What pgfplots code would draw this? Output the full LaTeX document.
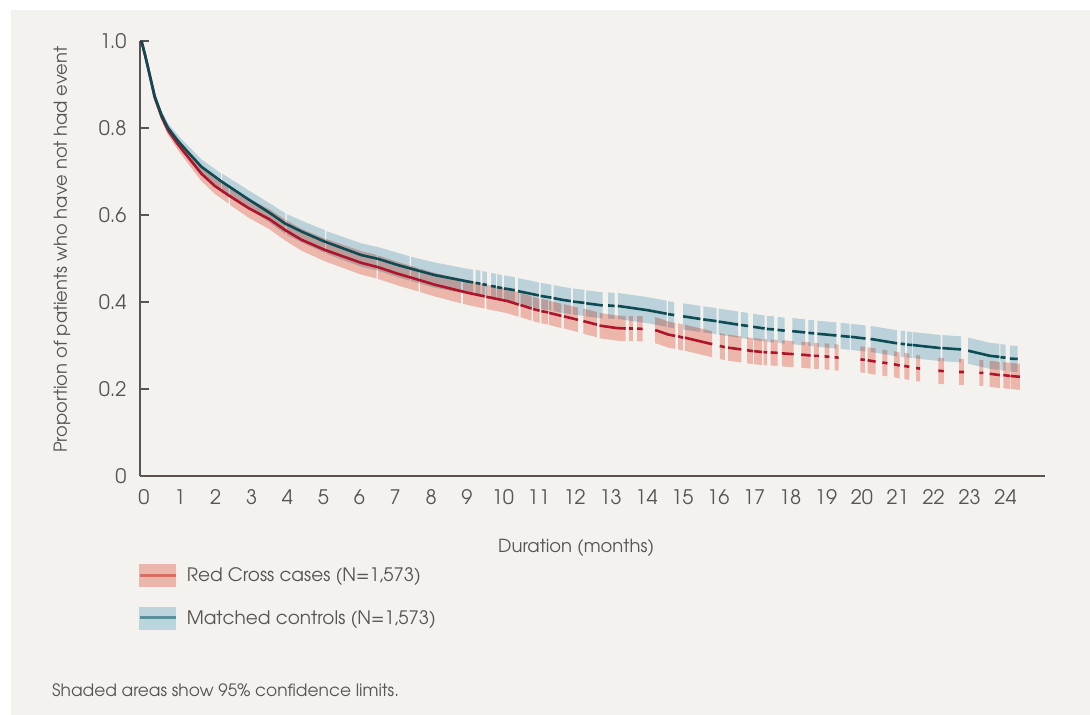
\documentclass[border=0pt]{standalone}
\usepackage{fontspec}
\setmainfont{TeX Gyre Adventor}
\usepackage{pgfplots}
\usepackage{pgfplotstable}
\pgfplotsset{compat=1.18}
\definecolor{bgc}{HTML}{F3F2EF}
\definecolor{txt}{HTML}{5A5350}
\definecolor{redline}{HTML}{B0142A}
\definecolor{tealline}{HTML}{0C4A54}
\definecolor{redband}{HTML}{ECB6AB}
\definecolor{tealband}{HTML}{C6DEE9}
\definecolor{tealbandleg}{HTML}{BCD4DB}
\definecolor{redleg}{HTML}{D86F61}
\definecolor{tealleg}{HTML}{5A909D}

% Matched controls: survival estimate (segments separated by nan)
\pgfplotstableread{
x y
0 1.000
0.10 0.968
0.18 0.940
0.37 0.873
0.56 0.830
0.74 0.800
1.02 0.770
1.29 0.745
1.67 0.711
2.23 0.677
2.98 0.636
3.57 0.605
4.01 0.580
4.46 0.562
5.10 0.539
6.12 0.508
6.60 0.499
7.14 0.485
8.16 0.462
9.10 0.447
9.24 0.445
nan nan
9.31 0.444
9.44 0.442
nan nan
9.50 0.441
9.62 0.439
nan nan
9.74 0.437
9.87 0.435
nan nan
9.91 0.434
10.05 0.432
nan nan
10.10 0.431
10.20 0.430
10.40 0.427
nan nan
10.49 0.425
10.96 0.417
11.07 0.415
nan nan
11.12 0.414
11.42 0.410
nan nan
11.48 0.409
11.72 0.405
11.96 0.402
nan nan
12.02 0.401
12.34 0.398
nan nan
12.39 0.397
12.85 0.392
nan nan
13.00 0.392
13.18 0.391
nan nan
13.27 0.391
14.11 0.381
14.63 0.373
nan nan
14.67 0.372
14.84 0.370
nan nan
15.09 0.367
15.57 0.361
nan nan
15.65 0.360
16.02 0.356
nan nan
16.08 0.355
16.31 0.352
16.62 0.348
nan nan
16.70 0.347
16.90 0.345
nan nan
17.04 0.343
17.36 0.339
nan nan
17.42 0.338
17.62 0.337
nan nan
17.72 0.336
17.92 0.334
nan nan
18.13 0.333
18.49 0.330
nan nan
18.58 0.329
18.74 0.328
nan nan
18.83 0.327
19.36 0.323
nan nan
19.48 0.322
19.73 0.320
nan nan
19.76 0.320
20.17 0.316
nan nan
20.31 0.315
20.39 0.314
21.05 0.305
nan nan
21.15 0.304
21.27 0.303
nan nan
21.33 0.302
21.47 0.301
nan nan
21.49 0.301
22.26 0.294
nan nan
22.31 0.294
22.83 0.291
nan nan
23.03 0.288
23.65 0.276
23.90 0.274
nan nan
23.93 0.273
24.07 0.272
nan nan
24.19 0.270
24.41 0.269
}\tealline

% Matched controls: 95% confidence band, one polygon per segment
\pgfplotstableread{
x y
0 1.000
0.10 0.970
0.18 0.944
0.37 0.879
0.56 0.839
0.74 0.811
1.02 0.783
1.29 0.760
1.67 0.728
2.21 0.696
2.21 0.660
1.67 0.694
1.29 0.730
1.02 0.757
0.74 0.789
0.56 0.821
0.37 0.867
0.18 0.936
0.10 0.966
0 1.000
nan nan
2.25 0.695
2.98 0.657
3.57 0.627
4.01 0.604
4.01 0.556
3.57 0.583
2.98 0.615
2.25 0.657
nan nan
4.05 0.602
4.46 0.587
5.11 0.565
5.11 0.513
4.46 0.537
4.05 0.554
nan nan
5.15 0.563
6.12 0.535
6.60 0.526
7.14 0.513
7.47 0.505
7.47 0.449
7.14 0.457
6.60 0.472
6.12 0.481
5.15 0.511
nan nan
7.51 0.504
8.16 0.491
9.10 0.476
9.24 0.474
9.24 0.416
9.10 0.418
8.16 0.433
7.51 0.448
nan nan
9.31 0.474
9.44 0.472
9.44 0.412
9.31 0.414
nan nan
9.50 0.471
9.62 0.469
9.62 0.409
9.50 0.411
nan nan
9.74 0.467
9.87 0.465
9.87 0.405
9.74 0.407
nan nan
9.91 0.464
10.05 0.462
10.05 0.402
9.91 0.404
nan nan
10.10 0.461
10.20 0.460
10.40 0.457
10.40 0.397
10.20 0.400
10.10 0.401
nan nan
10.49 0.455
10.96 0.447
11.07 0.445
11.07 0.385
10.96 0.387
10.49 0.395
nan nan
11.12 0.444
11.42 0.440
11.42 0.380
11.12 0.384
nan nan
11.48 0.439
11.72 0.435
11.96 0.432
11.96 0.372
11.72 0.375
11.48 0.379
nan nan
12.02 0.431
12.34 0.428
12.34 0.368
12.02 0.371
nan nan
12.39 0.427
12.85 0.422
12.85 0.362
12.39 0.367
nan nan
13.00 0.422
13.18 0.421
13.18 0.361
13.00 0.362
nan nan
13.27 0.421
14.11 0.411
14.63 0.403
14.63 0.343
14.11 0.351
13.27 0.361
nan nan
14.67 0.402
14.84 0.400
14.84 0.340
14.67 0.342
nan nan
15.09 0.397
15.57 0.391
15.57 0.331
15.09 0.337
nan nan
15.65 0.390
16.02 0.386
16.02 0.326
15.65 0.330
nan nan
16.08 0.385
16.31 0.382
16.62 0.378
16.62 0.318
16.31 0.322
16.08 0.325
nan nan
16.70 0.377
16.90 0.375
16.90 0.315
16.70 0.317
nan nan
17.04 0.373
17.36 0.369
17.36 0.309
17.04 0.313
nan nan
17.42 0.368
17.62 0.367
17.62 0.307
17.42 0.308
nan nan
17.72 0.366
17.92 0.364
17.92 0.304
17.72 0.306
nan nan
18.13 0.363
18.49 0.360
18.49 0.300
18.13 0.303
nan nan
18.58 0.359
18.74 0.358
18.74 0.298
18.58 0.299
nan nan
18.83 0.357
19.36 0.353
19.36 0.293
18.83 0.297
nan nan
19.48 0.352
19.73 0.350
19.73 0.290
19.48 0.292
nan nan
19.76 0.350
20.17 0.346
20.17 0.286
19.76 0.290
nan nan
20.31 0.345
20.39 0.344
21.05 0.335
21.05 0.275
20.39 0.284
20.31 0.285
nan nan
21.15 0.334
21.27 0.333
21.27 0.273
21.15 0.274
nan nan
21.33 0.332
21.47 0.331
21.47 0.271
21.33 0.272
nan nan
21.49 0.331
22.26 0.324
22.26 0.264
21.49 0.271
nan nan
22.31 0.324
22.83 0.321
22.83 0.261
22.31 0.264
nan nan
23.03 0.318
23.65 0.306
23.90 0.304
23.90 0.244
23.65 0.246
23.03 0.258
nan nan
23.93 0.303
24.07 0.302
24.07 0.242
23.93 0.243
nan nan
24.19 0.300
24.41 0.299
24.41 0.239
24.19 0.240
}\tealband

% Red Cross cases: survival estimate
\pgfplotstableread{
x y
0 1.000
0.10 0.968
0.18 0.940
0.37 0.870
0.56 0.826
0.74 0.795
1.02 0.762
1.29 0.734
1.67 0.695
2.04 0.667
2.43 0.645
2.47 0.643
2.98 0.616
3.57 0.590
4.01 0.565
4.46 0.543
5.10 0.520
6.12 0.490
6.55 0.481
6.59 0.480
7.14 0.465
7.72 0.451
7.76 0.450
8.16 0.440
8.90 0.425
8.96 0.424
9.10 0.421
9.56 0.413
nan nan
9.61 0.412
10.20 0.402
10.51 0.394
nan nan
10.56 0.393
10.87 0.385
nan nan
10.91 0.384
11.09 0.380
nan nan
11.14 0.379
11.33 0.376
nan nan
11.36 0.375
11.70 0.368
nan nan
11.77 0.367
12.16 0.359
nan nan
12.31 0.356
12.69 0.348
nan nan
12.76 0.346
12.82 0.345
13.25 0.340
13.49 0.339
nan nan
13.58 0.339
13.69 0.339
nan nan
13.81 0.339
13.96 0.338
nan nan
14.31 0.335
14.37 0.334
14.68 0.325
14.87 0.322
nan nan
14.95 0.321
15.09 0.318
nan nan
15.14 0.318
15.29 0.315
15.90 0.303
nan nan
16.11 0.299
16.25 0.296
nan nan
16.34 0.295
16.71 0.291
nan nan
16.87 0.289
17.04 0.287
nan nan
17.07 0.287
17.29 0.285
nan nan
17.33 0.285
17.43 0.284
nan nan
17.53 0.284
17.72 0.283
nan nan
17.84 0.282
18.17 0.280
nan nan
18.38 0.279
18.64 0.277
nan nan
18.73 0.276
18.87 0.276
nan nan
19.03 0.275
19.16 0.274
nan nan
19.31 0.273
19.42 0.272
nan nan
20.03 0.268
20.15 0.267
nan nan
20.23 0.266
20.45 0.263
nan nan
20.64 0.261
20.78 0.259
nan nan
20.96 0.257
21.12 0.254
nan nan
21.25 0.253
21.39 0.251
nan nan
21.58 0.248
21.69 0.247
nan nan
22.20 0.242
22.35 0.241
nan nan
22.78 0.239
22.91 0.239
nan nan
23.34 0.237
23.45 0.237
nan nan
23.63 0.235
23.91 0.232
nan nan
24.01 0.232
24.19 0.230
nan nan
24.21 0.230
24.47 0.228
}\redline

% Red Cross cases: 95% confidence band
\pgfplotstableread{
x y
0 1.000
0.10 0.970
0.18 0.944
0.37 0.876
0.56 0.835
0.74 0.806
1.02 0.775
1.29 0.749
1.67 0.712
2.04 0.685
2.43 0.664
2.43 0.626
2.04 0.649
1.67 0.678
1.29 0.719
1.02 0.749
0.74 0.784
0.56 0.817
0.37 0.864
0.18 0.936
0.10 0.966
0 1.000
nan nan
2.47 0.663
2.98 0.638
3.57 0.613
4.01 0.589
4.46 0.568
5.10 0.546
6.12 0.517
6.55 0.508
6.55 0.454
6.12 0.463
5.10 0.494
4.46 0.518
4.01 0.541
3.57 0.567
2.98 0.594
2.47 0.623
nan nan
6.59 0.507
7.14 0.492
7.72 0.478
7.72 0.424
7.14 0.438
6.59 0.453
nan nan
7.76 0.477
8.16 0.467
8.90 0.453
8.90 0.397
8.16 0.413
7.76 0.423
nan nan
8.96 0.452
9.10 0.449
9.56 0.441
9.56 0.385
9.10 0.393
8.96 0.396
nan nan
9.61 0.440
10.20 0.430
10.51 0.422
10.51 0.366
10.20 0.374
9.61 0.384
nan nan
10.56 0.421
10.87 0.413
10.87 0.357
10.56 0.365
nan nan
10.91 0.412
11.09 0.408
11.09 0.352
10.91 0.356
nan nan
11.14 0.407
11.33 0.404
11.33 0.348
11.14 0.351
nan nan
11.36 0.403
11.70 0.396
11.70 0.340
11.36 0.347
nan nan
11.77 0.395
12.16 0.387
12.16 0.331
11.77 0.339
nan nan
12.31 0.385
12.69 0.377
12.69 0.319
12.31 0.327
nan nan
12.76 0.375
12.82 0.374
13.25 0.369
13.49 0.368
13.49 0.310
13.25 0.311
12.82 0.316
12.76 0.317
nan nan
13.58 0.368
13.69 0.368
13.69 0.310
13.58 0.310
nan nan
13.81 0.368
13.96 0.367
13.96 0.309
13.81 0.310
nan nan
14.31 0.365
14.37 0.364
14.68 0.355
14.87 0.352
14.87 0.292
14.68 0.295
14.37 0.304
14.31 0.305
nan nan
14.95 0.351
15.09 0.348
15.09 0.288
14.95 0.291
nan nan
15.14 0.348
15.29 0.345
15.90 0.333
15.90 0.273
15.29 0.285
15.14 0.288
nan nan
16.11 0.329
16.25 0.326
16.25 0.266
16.11 0.269
nan nan
16.34 0.325
16.71 0.321
16.71 0.261
16.34 0.265
nan nan
16.87 0.319
17.04 0.317
17.04 0.257
16.87 0.259
nan nan
17.07 0.317
17.29 0.315
17.29 0.255
17.07 0.257
nan nan
17.33 0.315
17.43 0.314
17.43 0.254
17.33 0.255
nan nan
17.53 0.314
17.72 0.313
17.72 0.253
17.53 0.254
nan nan
17.84 0.312
18.17 0.310
18.17 0.250
17.84 0.252
nan nan
18.38 0.309
18.64 0.307
18.64 0.247
18.38 0.249
nan nan
18.73 0.306
18.87 0.306
18.87 0.246
18.73 0.246
nan nan
19.03 0.305
19.16 0.304
19.16 0.244
19.03 0.245
nan nan
19.31 0.303
19.42 0.302
19.42 0.242
19.31 0.243
nan nan
20.03 0.298
20.15 0.297
20.15 0.237
20.03 0.238
nan nan
20.23 0.296
20.45 0.293
20.45 0.233
20.23 0.236
nan nan
20.64 0.291
20.78 0.289
20.78 0.229
20.64 0.231
nan nan
20.96 0.287
21.12 0.284
21.12 0.224
20.96 0.227
nan nan
21.25 0.283
21.39 0.281
21.39 0.221
21.25 0.223
nan nan
21.58 0.278
21.69 0.277
21.69 0.217
21.58 0.218
nan nan
22.20 0.272
22.35 0.271
22.35 0.211
22.20 0.212
nan nan
22.78 0.269
22.91 0.269
22.91 0.209
22.78 0.209
nan nan
23.34 0.267
23.45 0.267
23.45 0.207
23.34 0.207
nan nan
23.63 0.265
23.91 0.262
23.91 0.202
23.63 0.205
nan nan
24.01 0.262
24.19 0.260
24.19 0.200
24.01 0.202
nan nan
24.21 0.260
24.47 0.258
24.47 0.198
24.21 0.200
}\redband

\begin{document}
\begin{tikzpicture}
\fill[white] (0,0) rectangle (1090pt,715pt);
\fill[bgc] (11pt,0) rectangle (1090pt,705pt);
\begin{axis}[
  at={(140pt,239pt)}, anchor=south west,
  scale only axis, width=905pt, height=435pt,
  xmin=-0.04, xmax=25.17, ymin=0, ymax=1,
  axis x line*=bottom, axis y line*=left,
  axis line style={txt, line width=2.4pt},
  xtick={0,1,...,24},
  xticklabels={0,1,2,3,4,5,6,7,8,9,10,11,12,13,14,15,16,17,18,19,20,21,22,23,24},
  ytick={0,0.2,0.4,0.6,0.8,1},
  yticklabels={0,0.2,0.4,0.6,0.8,1.0},
  x tick style={draw=none},
  y tick style={txt, line width=2.4pt},
  tick align=inside, major tick length=9pt,
  ticklabel style={font=\fontsize{20}{20}\selectfont, text=txt},
  yticklabel style={xshift=-10pt},
  xticklabel style={yshift=-10pt, xshift=2.5pt},
  /pgf/number format/assume math mode=true,
  xlabel={Duration (months)},
  ylabel={Proportion of patients who have not had event},
  label style={text=txt},
  xlabel style={at={(axis description cs:0.482,-0.166)}, anchor=center, font=\fontsize{18}{18}\selectfont},
  ylabel style={at={(axis description cs:-0.0862,0.52)}, anchor=center, font=\fontsize{17.9}{17.9}\selectfont},
  clip=false,
  unbounded coords=jump,
  legend cell align=left,
  legend style={at={(axis description cs:0,0)}, anchor=north west, xshift=-2pt, yshift=-88pt,
    draw=none, fill=none, inner sep=0pt, row sep=20pt, column sep=8pt,
    font=\fontsize{18.5}{18.5}\selectfont, text=txt},
]
\addplot[fill=redband, draw=none, forget plot] table {\redband};
\addplot[fill=tealband, draw=none, forget plot, blend mode=multiply] table {\tealband};
\addplot[redline, line width=2.6pt, forget plot] table {\redline};
\addplot[tealline, line width=2.6pt, forget plot] table {\tealline};
\addlegendimage{legend image code/.code={\fill[redband] (0pt,-11pt) rectangle (36pt,11pt); \draw[redleg, line width=2.6pt] (0pt,0pt) -- (36pt,0pt);}}
\addlegendentry{Red Cross cases (N=1,573)}
\addlegendimage{legend image code/.code={\fill[tealbandleg] (0pt,-11pt) rectangle (36pt,11pt); \draw[tealleg, line width=2.6pt] (0pt,0pt) -- (36pt,0pt);}}
\addlegendentry{Matched controls (N=1,573)}
\end{axis}
\node[anchor=west, text=txt, font=\fontsize{17}{17}\selectfont, inner sep=0pt] at (52pt,25pt) {Shaded areas show 95\% confidence limits.};
\end{tikzpicture}
\end{document}
